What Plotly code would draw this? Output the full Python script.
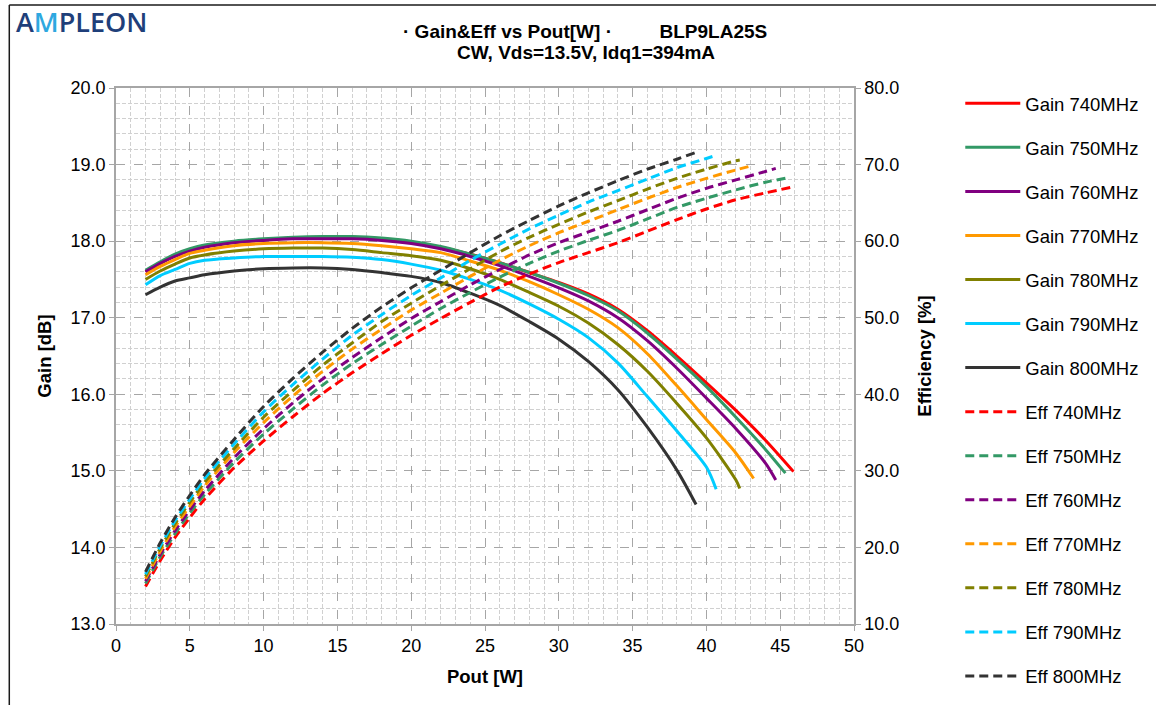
import plotly.graph_objects as go

# Output power sweep points [W] per frequency
pout_740 = [2, 3, 4, 5, 6, 8, 10, 12, 14, 16, 18, 20, 22, 24, 26, 28, 30, 32, 34, 36, 38, 40, 42, 44, 45.9]
pout_750 = [2, 3, 4, 5, 6, 8, 10, 12, 14, 16, 18, 20, 22, 24, 26, 28, 30, 32, 34, 36, 38, 40, 42, 44, 45.35]
pout_760 = [2, 3, 4, 5, 6, 8, 10, 12, 14, 16, 18, 20, 22, 24, 26, 28, 30, 32, 34, 36, 38, 40, 42, 44, 44.7]
pout_770 = [2, 3, 4, 5, 6, 8, 10, 12, 14, 16, 18, 20, 22, 24, 26, 28, 30, 32, 34, 36, 38, 40, 42, 43.2]
pout_780 = [2, 3, 4, 5, 6, 8, 10, 12, 14, 16, 18, 20, 22, 24, 26, 28, 30, 32, 34, 36, 38, 40, 42, 42.26]
pout_790 = [2, 3, 4, 5, 6, 8, 10, 12, 14, 16, 18, 20, 22, 24, 26, 28, 30, 32, 34, 36, 38, 40, 40.66]
pout_800 = [2, 3, 4, 5, 6, 8, 10, 12, 14, 16, 18, 20, 22, 24, 26, 28, 30, 32, 34, 36, 38, 39.3]

# Gain [dB]
gain_740 = [17.60, 17.71, 17.81, 17.88, 17.93, 17.99, 18.02, 18.04, 18.05, 18.05, 18.03, 17.99, 17.92,
            17.83, 17.72, 17.59, 17.46, 17.31, 17.11, 16.83, 16.50, 16.15, 15.79, 15.40, 14.99]
gain_750 = [17.62, 17.73, 17.83, 17.90, 17.95, 18.00, 18.03, 18.05, 18.06, 18.06, 18.04, 18.00, 17.93,
            17.83, 17.72, 17.59, 17.45, 17.29, 17.09, 16.80, 16.46, 16.10, 15.70, 15.28, 14.97]
gain_760 = [17.60, 17.71, 17.80, 17.87, 17.92, 17.98, 18.01, 18.03, 18.03, 18.03, 18.01, 17.97, 17.90,
            17.80, 17.68, 17.54, 17.39, 17.22, 17.00, 16.70, 16.34, 15.95, 15.55, 15.10, 14.88]
gain_770 = [17.56, 17.67, 17.76, 17.84, 17.88, 17.94, 17.97, 17.98, 17.98, 17.97, 17.94, 17.90, 17.85,
            17.74, 17.62, 17.47, 17.30, 17.11, 16.87, 16.53, 16.11, 15.67, 15.23, 14.90]
gain_780 = [17.50, 17.61, 17.70, 17.78, 17.82, 17.87, 17.90, 17.91, 17.91, 17.89, 17.85, 17.81, 17.75,
            17.64, 17.50, 17.33, 17.15, 16.93, 16.65, 16.30, 15.88, 15.43, 14.88, 14.77]
gain_790 = [17.43, 17.55, 17.63, 17.71, 17.75, 17.78, 17.80, 17.80, 17.80, 17.79, 17.76, 17.70, 17.62,
            17.50, 17.36, 17.18, 16.98, 16.74, 16.41, 15.97, 15.52, 15.05, 14.76]
gain_800 = [17.30, 17.40, 17.48, 17.52, 17.56, 17.61, 17.64, 17.65, 17.65, 17.63, 17.59, 17.54, 17.46,
            17.32, 17.16, 16.95, 16.72, 16.43, 16.06, 15.57, 15.01, 14.56]

# Drain efficiency [%]
eff_740 = [14.9, 18.3, 21.3, 23.9, 26.3, 30.4, 33.9, 37.1, 40.1, 42.8, 45.3, 47.7, 49.9,
           52.0, 54.0, 55.7, 57.2, 58.5, 59.8, 61.3, 62.8, 64.2, 65.4, 66.3, 67.1]
eff_750 = [15.3, 18.8, 21.8, 24.5, 26.9, 31.1, 34.8, 38.1, 41.2, 44.0, 46.5, 48.9, 51.2,
           53.3, 55.3, 57.1, 58.7, 60.1, 61.4, 62.9, 64.4, 65.6, 66.7, 67.7, 68.2]
eff_760 = [15.6, 19.1, 22.2, 24.9, 27.4, 31.7, 35.5, 38.9, 42.0, 44.8, 47.4, 49.9, 52.1,
           54.3, 56.3, 58.2, 59.8, 61.2, 62.6, 64.1, 65.6, 66.9, 68.0, 69.1, 69.5]
eff_770 = [15.9, 19.5, 22.7, 25.4, 28.0, 32.4, 36.3, 39.8, 43.0, 45.9, 48.5, 51.0, 53.2,
           55.4, 57.5, 59.4, 61.1, 62.6, 64.1, 65.6, 67.0, 68.2, 69.3, 69.9]
eff_780 = [16.2, 19.9, 23.1, 25.9, 28.5, 32.9, 37.0, 40.5, 43.8, 46.7, 49.5, 51.9, 54.2,
           56.4, 58.6, 60.5, 62.2, 63.8, 65.3, 66.8, 68.2, 69.4, 70.5, 70.6]
eff_790 = [16.5, 20.2, 23.5, 26.3, 29.0, 33.5, 37.7, 41.3, 44.6, 47.7, 50.4, 52.9, 55.2,
           57.5, 59.6, 61.6, 63.4, 65.1, 66.6, 68.1, 69.6, 70.8, 71.2]
eff_800 = [16.8, 20.6, 23.9, 26.8, 29.5, 34.1, 38.4, 42.1, 45.5, 48.6, 51.4, 53.9, 56.2,
           58.5, 60.7, 62.7, 64.6, 66.3, 67.9, 69.4, 70.7, 71.6]

freqs = ["740MHz", "750MHz", "760MHz", "770MHz", "780MHz", "790MHz", "800MHz"]
colors = ["#FF0000", "#339966", "#800080", "#FF9900", "#808000", "#00CCFF", "#333333"]
pouts = [pout_740, pout_750, pout_760, pout_770, pout_780, pout_790, pout_800]
gains = [gain_740, gain_750, gain_760, gain_770, gain_780, gain_790, gain_800]
effs = [eff_740, eff_750, eff_760, eff_770, eff_780, eff_790, eff_800]

FONT = "Liberation Sans, Arial, sans-serif"

fig = go.Figure()

for i, (f, c, x, g) in enumerate(zip(freqs, colors, pouts, gains)):
    fig.add_trace(go.Scatter(
        x=x, y=g, mode="lines", name=f"Gain {f}", legendgroup=f"g{i}",
        line=dict(color=c, width=3, shape="spline", smoothing=0.8),
        yaxis="y",
    ))

for i, (f, c, x, e) in enumerate(zip(freqs, colors, pouts, effs)):
    fig.add_trace(go.Scatter(
        x=x, y=e, mode="lines", name=f"Eff {f}", legendgroup=f"e{i}",
        line=dict(color=c, width=3, dash="9px,5px", shape="spline", smoothing=0.8),
        yaxis="y2",
    ))

axis_line = "#A6A6A6"
major_grid = "#A6A6A6"
minor_grid = "#D0D0D0"

fig.update_layout(
    width=1156, height=705,
    margin=dict(l=116, r=300, t=88, b=81),
    paper_bgcolor="white", plot_bgcolor="white",
    font=dict(family=FONT, size=18, color="#000000"),
    showlegend=True,
    legend=dict(
        x=1.144, y=1.006, xanchor="left", yanchor="top",
        traceorder="grouped", tracegroupgap=17, maxheight=700,
        font=dict(family=FONT, size=18.5, color="#000000"),
        itemwidth=55, bgcolor="rgba(0,0,0,0)",
    ),
    xaxis=dict(
        range=[0, 50], dtick=5, tick0=0,
        showline=True, linecolor=axis_line, linewidth=1.5, mirror=True,
        ticks="outside", ticklen=5, tickcolor=axis_line,
        showgrid=True, gridcolor=major_grid, griddash="dash", gridwidth=1,
        minor=dict(dtick=1, showgrid=True, gridcolor=minor_grid, griddash="4px,2px", gridwidth=1),
        zeroline=False,
        tickfont=dict(family=FONT, size=18),
        title=dict(text="<b>Pout [W]</b>", font=dict(family=FONT, size=18.5), standoff=15),
    ),
    yaxis=dict(
        range=[13, 20], dtick=1, tick0=13, tickformat=".1f",
        showline=True, linecolor=axis_line, linewidth=1.5,
        ticks="outside", ticklen=5, tickcolor=axis_line,
        showgrid=True, gridcolor=major_grid, griddash="dash", gridwidth=1,
        minor=dict(dtick=0.2, showgrid=True, gridcolor=minor_grid, griddash="4px,2px", gridwidth=1),
        zeroline=False,
        tickfont=dict(family=FONT, size=18),
        title=dict(text="<b>Gain [dB]</b>", font=dict(family=FONT, size=18.5), standoff=14),
    ),
    yaxis2=dict(
        range=[10, 80], dtick=10, tick0=10, tickformat=".1f",
        overlaying="y", side="right",
        showline=True, linecolor=axis_line, linewidth=1.5,
        ticks="outside", ticklen=5, tickcolor=axis_line,
        showgrid=False, zeroline=False,
        tickfont=dict(family=FONT, size=18),
        title=dict(text="<b>Efficiency [%]</b>", font=dict(family=FONT, size=18.5), standoff=20),
    ),
)

# Frame lines along the top and left edges of the page
fig.add_shape(type="line", xref="paper", yref="paper",
              x0=(9 - 116) / 740, x1=(1160 - 116) / 740,
              y0=(624 - 5) / 536, y1=(624 - 5) / 536,
              line=dict(color="#1A1A1A", width=1.5))
fig.add_shape(type="line", xref="paper", yref="paper",
              x0=(9 - 116) / 740, x1=(9 - 116) / 740,
              y0=(624 - 5) / 536, y1=(624 - 710) / 536,
              line=dict(color="#1A1A1A", width=1.5))

# Company logo
fig.add_annotation(
    xref="paper", yref="paper", x=(14 - 116) / 740, y=(624 - 21) / 536,
    xanchor="left", yanchor="middle", showarrow=False,
    text="<span style='color:#1F3F7A'>A</span><span style='color:#2EA8E0'>M</span>"
         "<span style='color:#1F3F7A'>PLEON</span>",
    font=dict(family="Open Sans, sans-serif", size=27, weight=600),
)

# Chart title
fig.add_annotation(
    xref="paper", yref="paper", x=(586 - 116) / 740, y=(624 - 32) / 536,
    xanchor="center", yanchor="middle", showarrow=False,
    text="<b>· Gain&amp;Eff vs Pout[W] ·" + "\u00a0" * 9 + "BLP9LA25S</b>",
    font=dict(family=FONT, size=19, color="#000000"),
)
fig.add_annotation(
    xref="paper", yref="paper", x=(587 - 116) / 740, y=(624 - 53) / 536,
    xanchor="center", yanchor="middle", showarrow=False,
    text="<b>CW, Vds=13.5V, Idq1=394mA</b>",
    font=dict(family=FONT, size=19, color="#000000"),
)

fig.write_html("out.html")
